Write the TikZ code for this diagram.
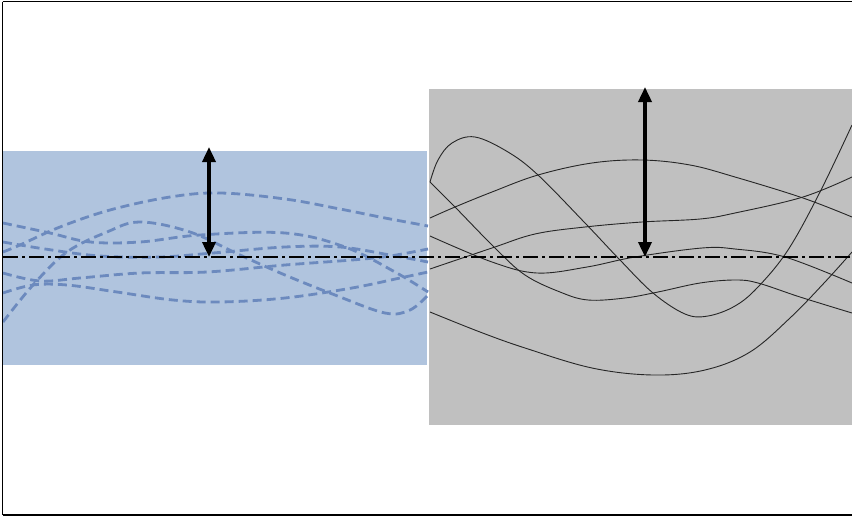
\documentclass[tikz,border=0pt]{standalone}
\usetikzlibrary{arrows.meta}
\definecolor{bluebg}{RGB}{176,196,222}
\definecolor{graybg}{RGB}{192,192,192}
\definecolor{dashblue}{RGB}{108,138,190}
\begin{document}
\begin{tikzpicture}[x=1pt,y=-1pt,
  bluecurve/.style={dashblue, line width=2.8pt, dash pattern=on 9pt off 5pt},
  blackcurve/.style={black!85, line width=0.9pt},
  centre/.style={black, line width=1.8pt, dash pattern=on 15pt off 4pt on 3pt off 4pt},
  bigarrow/.style={line width=3.5pt, {Triangle[width=13pt,length=15pt]}-{Triangle[width=13pt,length=15pt]}}]
\useasboundingbox (0,0) rectangle (852,517);
\clip (0,0) rectangle (852,517);
% panels
\fill[bluebg] (3,151) rectangle (427,365);
\fill[graybg] (429,89) rectangle (852,425);
% blue dashed curves
\draw[bluecurve] plot[smooth, tension=0.6] coordinates {(3,252) (20,245) (60,227) (110,210) (170,197) (220,193) (285,199) (340,209) (385,218) (428,226)};
\draw[bluecurve] plot[smooth, tension=0.6] coordinates {(3,223) (50,233) (90,242) (140,242) (200,235) (285,233) (345,247) (395,272) (428,292)};
\draw[bluecurve] plot[smooth, tension=0.6] coordinates {(3,322) (33,285) (67,252) (107,232) (140,222) (190,232) (240,255) (285,275) (335,295) (385,313) (410,310) (428,295)};
\draw[bluecurve] plot[smooth, tension=0.6] coordinates {(3,242) (45,249) (100,256) (160,257) (213,253) (285,247) (340,247) (390,255) (428,262)};
\draw[bluecurve] plot[smooth, tension=0.6] coordinates {(3,273) (40,281) (80,278) (140,273) (207,272) (285,265) (352,260) (390,256) (428,249)};
\draw[bluecurve] plot[smooth, tension=0.6] coordinates {(3,293) (33,285) (67,285) (117,292) (173,300) (220,302) (285,298) (352,288) (400,278) (428,272)};
% black curves
\draw[blackcurve] plot[smooth, tension=0.6] coordinates {(430,182) (438,160) (452,143) (475,137) (508,152) (538,175) (585,223) (620,260) (653,293) (685,314) (708,316) (735,306) (758,287) (788,250) (820,192) (852,125)};
\draw[blackcurve] plot[smooth, tension=0.6] coordinates {(430,218) (455,207) (492,192) (538,175) (592,163) (642,160) (690,165) (735,177) (803,198) (852,217)};
\draw[blackcurve] plot[smooth, tension=0.6] coordinates {(430,269) (492,248) (535,234) (585,227) (642,222) (700,219) (735,213) (803,197) (852,177)};
\draw[blackcurve] plot[smooth, tension=0.6] coordinates {(430,236) (492,262) (537,273) (587,267) (635,257) (702,248) (735,249) (785,257) (852,283)};
\draw[blackcurve] plot[smooth, tension=0.6] coordinates {(430,182) (455,207) (495,248) (525,275) (560,292) (588,300) (625,298) (658,292) (700,283) (735,280) (758,283) (800,297) (852,313)};
\draw[blackcurve] plot[smooth, tension=0.6] coordinates {(430,312) (480,332) (525,348) (592,368) (653,375) (705,370) (750,352) (790,318) (825,282) (852,252)};
% centre line
\coordinate (cl) at (3,257);
\coordinate (cr) at (852,257);
\draw[centre] (cl) -- (cr);
% arrows
\coordinate (la) at (209,147);
\coordinate (lb) at (209,257);
\coordinate (ra) at (645,87);
\coordinate (rb) at (645,257);
\draw[bigarrow] (la) -- (lb);
\draw[bigarrow] (ra) -- (rb);
% frame
\draw[black, line width=1.6pt] (2.5,1.5) -- (870,1.5);
\draw[black, line width=1.6pt] (2.5,515) -- (870,515);
\draw[black, line width=1.6pt] (2.5,1.5) -- (2.5,515);
\end{tikzpicture}
\end{document}
